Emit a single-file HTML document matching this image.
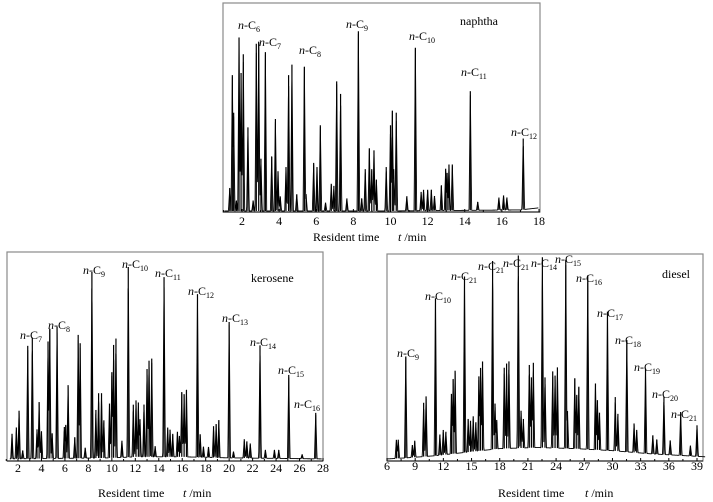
<!DOCTYPE html>
<html><head><meta charset="utf-8">
<style>
html,body{margin:0;padding:0;background:#fff;}
svg{display:block;font-family:"Liberation Serif",serif;}
.lab{font-size:12px;fill:#000;}
.tick{font-size:12px;fill:#000;}
</style></head>
<body>
<svg id="chart" width="713" height="502" viewBox="0 0 713 502"></svg>
<script>
// ---------- naphtha data ----------
const naphthaTimes=[1.34,1.48,1.55,1.7,1.84,1.95,2.07,2.32,2.6,2.77,2.9,3.02,3.26,3.6,3.8,3.94,4.06,4.37,4.51,4.69,4.95,5.36,5.45,5.86,6.04,6.22,6.5,6.81,6.95,7.1,7.31,7.65,8.27,8.45,8.64,8.86,8.99,9.11,9.24,9.77,10.0,10.1,10.17,10.31,10.88,11.34,11.65,11.78,12.0,12.2,12.37,12.74,12.97,13.05,13.15,13.33,14.3,14.7,15.84,16.09,16.27,17.15];
const naphthaHeights=[11,65,47,5,83,66,75,40,5,80,81,25,76,26,44,19,7,21,65,70,8,69,8,23,21,41,4,13,12,62,56,6,86,6,20,30,20,29,15,21,41,48,20,47,7,78,9,10,10,10,7,12,20,18,22,22,57,4,6,7,6,34];
const naphthaBaseT=[1,10,17,18];
const naphthaBaseV=[0.5,0.5,1,2];
// ---------- kerosene data ----------
const keroTimes=[1.49,1.86,2.09,2.4,2.83,3.22,3.62,3.8,4.0,4.56,4.71,4.91,5.33,5.95,6.07,6.27,6.84,7.13,7.3,7.73,8.3,8.64,8.87,9.12,9.32,9.8,10.0,10.15,10.35,10.86,11.4,11.83,12.06,12.26,12.4,12.74,13.0,13.17,13.4,13.69,14.45,14.76,14.96,15.19,15.59,15.76,15.96,16.16,16.36,17.3,17.53,17.81,18.24,18.67,18.89,19.12,20.0,20.37,21.29,21.51,21.8,22.63,23.09,23.86,24.23,25.08,26.22,27.38];
const keroHeights=[12,15,23,4,54,58,14,27,13,56,62,12,63,15,16,35,10,59,55,5,89,23,31,31,18,26,41,54,57,8,91,25,27,26,18,25,42,46,47,5,86,14,13,11,12,10,31,30,32,78,11,5,5,15,16,18,65,3,9,8,7,54,4,4,4,40,2,22];
const keroBaseT=[1,10,12,16,20,28];
const keroBaseV=[1,1.5,2,2,1.5,1];
// ---------- diesel data ----------
const dieselTimes=[7.0,7.2,8.0,8.7,8.95,9.9,10.16,11.16,11.63,11.99,12.27,12.86,13.04,13.25,14.25,14.64,14.89,15.18,15.46,15.78,15.96,16.17,17.24,17.5,17.68,18.48,18.73,18.98,19.98,20.27,20.52,21.15,21.37,21.58,22.54,22.82,23.64,23.89,24.14,25.03,25.21,25.99,26.2,26.42,27.37,28.19,28.4,28.62,29.47,30.3,30.58,31.53,32.3,32.58,33.52,34.3,34.72,35.48,36.15,37.26,38.3,39.0];
const dieselHeights=[9,9,49,6,8,26,29,76,10,12,11,29,36,40,85,16,15,17,14,36,40,43,91,22,14,39,41,42,93,18,14,40,34,41,92,34,37,35,39,91,18,34,26,30,84,32,24,18,67,26,18,54,14,11,41,9,7,28,7,21,5,15];
const dieselBaseT=[6,8,11,14,18,22,26,30,34,38,40];
const dieselBaseV=[1,1.5,2.5,4,6,6.5,6,5,3.5,2.5,2];

const svg=document.getElementById('chart');
const NS='http://www.w3.org/2000/svg';
function mk(tag,attrs,parent){const e=document.createElementNS(NS,tag);for(const k in attrs)e.setAttribute(k,attrs[k]);(parent||svg).appendChild(e);return e;}
function interp(T,V,t){if(t<=T[0])return V[0];for(let i=1;i<T.length;i++){if(t<=T[i]){const f=(t-T[i-1])/(T[i]-T[i-1]);return V[i-1]+f*(V[i]-V[i-1]);}}return V[V.length-1];}

function panel(cfg){
  const g=mk('g',{});
  
  
  const xS=t=>cfg.x0+(t-cfg.t0)*(cfg.x1-cfg.x0)/(cfg.t1-cfg.t0);
  const yS=v=>cfg.bottom-v/100*(cfg.bottom-cfg.top);
  // frame
  const fr=mk('rect',{x:cfg.left,y:cfg.top,width:cfg.right-cfg.left,height:cfg.bottom-cfg.top,fill:'none',stroke:'#8a8a8a','stroke-width':1.2},g);
  
  
  const ax=mk('line',{x1:cfg.left,x2:cfg.right,y1:cfg.bottom,y2:cfg.bottom,stroke:'#000','stroke-width':1},g);
  
  
  // trace
  let pts=[];
  const tStart=cfg.tStart, tEnd=cfg.tEnd;
  const step=(cfg.t1-cfg.t0)/(cfg.x1-cfg.x0)/3;
  for(let t=tStart;t<=tEnd;t+=step){
    let v=interp(cfg.baseT,cfg.baseV,t);
    let m=0;
    for(let i=0;i<cfg.times.length;i++){
      const d=Math.abs(t-cfg.times[i]);
      if(d<cfg.hw){const h=cfg.heights[i]*(1-d/cfg.hw);if(h>m)m=h;}
    }
    v+=m;
    pts.push(xS(t).toFixed(2)+','+yS(v).toFixed(2));
  }
  // ensure apexes
  const tr=mk('polyline',{points:pts.join(' '),fill:'none',stroke:'#000','stroke-width':0.9,'stroke-linejoin':'round'},g);
  
  
  for(let i=0;i<cfg.times.length;i++){
    const b=interp(cfg.baseT,cfg.baseV,cfg.times[i]);
    const pk=mk('line',{x1:xS(cfg.times[i]),x2:xS(cfg.times[i]),y1:yS(b),y2:yS(b+cfg.heights[i]),stroke:'#000','stroke-width':1.2},g);
    
    
  }
  // ticks
  cfg.ticks.forEach(tv=>{
    const x=xS(tv);
    const tk=mk('line',{x1:x,x2:x,y1:cfg.bottom,y2:cfg.bottom-3,stroke:'#000'},g);
    
    
    const tl=mk('text',{x:x,y:cfg.tickY,'text-anchor':'middle',class:'tick'},g);
    tl.textContent=tv;
    
    
  });
  (cfg.minor||[]).forEach(tv=>{
    const x=xS(tv);
    const tk=mk('line',{x1:x,x2:x,y1:cfg.bottom,y2:cfg.bottom-2,stroke:'#000'},g);
    
    
  });
  // axis title
  const at=mk('text',{x:cfg.titleX,y:cfg.titleY,class:'lab','font-size':'13'},g);
  
  
  at.innerHTML='Resident time<tspan x="'+cfg.titleX2+'" font-style="italic">t</tspan> /min';
  // sample name
  const sn=mk('text',{x:cfg.nameX,y:cfg.nameY,class:'lab','font-size':'13'},g);
  sn.textContent=cfg.name;
  
  
  // peak labels
  cfg.labels.forEach(l=>{
    const t=mk('text',{x:l[0],y:l[1],class:'lab'},g);
    t.innerHTML='<tspan font-style="italic">n</tspan>-C<tspan font-size="8" dy="3">'+l[2]+'</tspan>';
    
    
  });
}

panel({name:'naphtha',left:223,right:540,top:3,bottom:212,x0:242,x1:539,t0:2,t1:18,tStart:1.05,tEnd:17.98,
  times:naphthaTimes,heights:naphthaHeights,baseT:naphthaBaseT,baseV:naphthaBaseV,hw:0.07,
  ticks:[2,4,6,8,10,12,14,16,18],minor:[1,3,5,7,9,11,13,15,17],tickY:225,titleX:313,titleX2:398,titleY:241,nameX:460,nameY:25,
  labels:[[238,29,6],[259,46,7],[299,54,8],[346,28,9],[409,40,10],[461,76,11],[511,136,12]]});

panel({name:'kerosene',left:7,right:323,top:252,bottom:461,x0:18,x1:323,t0:2,t1:28,tStart:1.3,tEnd:27.9,
  times:keroTimes,heights:keroHeights,baseT:keroBaseT,baseV:keroBaseV,hw:0.11,
  ticks:[2,4,6,8,10,12,14,16,18,20,22,24,26,28],minor:[1,3,5,7,9,11,13,15,17,19,21,23,25,27],tickY:472,titleX:98,titleX2:183,titleY:497,nameX:251,nameY:282,
  labels:[[20,339,7],[48,329,8],[83,274,9],[122,268,10],[155,277,11],[188,295,12],[222,322,13],[250,346,14],[278,374,15],[294,408,16]]});

panel({name:'diesel',left:387,right:703,top:254,bottom:461,x0:387,x1:697,t0:6,t1:39,tStart:6.05,tEnd:39.9,
  times:dieselTimes,heights:dieselHeights,baseT:dieselBaseT,baseV:dieselBaseV,hw:0.14,
  ticks:[6,9,12,15,18,21,24,27,30,33,36,39],minor:[7.5,10.5,13.5,16.5,19.5,22.5,25.5,28.5,31.5,34.5,37.5],tickY:470,titleX:498,titleX2:585,titleY:497,nameX:662,nameY:278,
  labels:[[397,357,9],[425,300,10],[451,280,21],[478,270,21],[503,267,21],[531,267,14],[555,263,15],[576,282,16],[597,317,17],[615,344,18],[634,371,19],[652,398,20],[671,418,21]]});
</script>
</body></html>
